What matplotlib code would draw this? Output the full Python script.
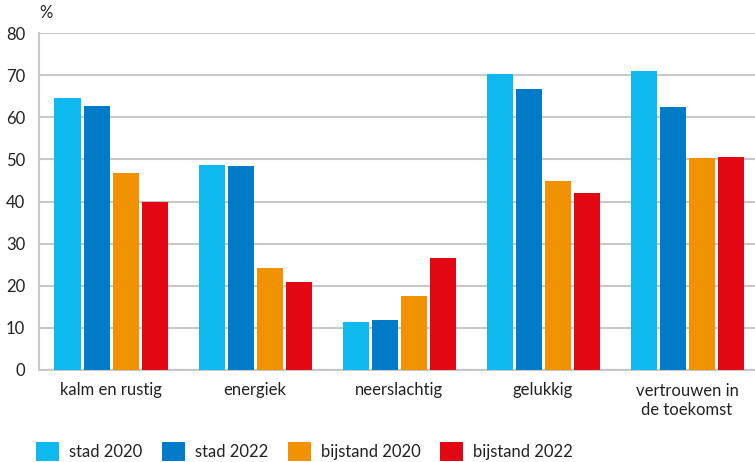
import numpy as np
import matplotlib.pyplot as plt

plt.rcParams['font.family'] = ['Lato', 'DejaVu Sans']

categories = ['kalm en rustig', 'energiek', 'neerslachtig', 'gelukkig', 'vertrouwen in\nde toekomst']
series = ['stad 2020', 'stad 2022', 'bijstand 2020', 'bijstand 2022']
stad_2020 = [64.6, 48.7, 11.4, 70.3, 71.0]
stad_2022 = [62.7, 48.5, 11.9, 66.7, 62.5]
bijstand_2020 = [46.8, 24.2, 17.6, 44.9, 50.4]
bijstand_2022 = [39.9, 20.9, 26.6, 42.0, 50.6]
colors = ['#0DB9EE', '#007BC7', '#F29200', '#E30613']

fig = plt.figure(figsize=(7.55, 4.62), dpi=100)
ax = fig.add_axes([39 / 755, 1 - 370 / 462, 720 / 755, 337 / 462])

x = np.arange(len(categories))
width = 26 / 144
step = 29 / 144
for i, (vals, name) in enumerate(zip([stad_2020, stad_2022, bijstand_2020, bijstand_2022], series)):
    ax.bar(x + (i - 1.5) * step, vals, width, color=colors[i], label=name, zorder=3)

ax.set_xlim(-0.5, len(categories) - 0.5)
ax.set_ylim(0, 80)
ax.set_yticks(range(0, 81, 10))
ax.set_xticks(x)
ax.set_xticklabels(categories, fontsize=12, color='#222222', linespacing=1.25)
ax.tick_params(axis='both', length=0, labelsize=12, labelcolor='#222222')
ax.tick_params(axis='x', pad=9)
ax.tick_params(axis='y', pad=10)
ax.yaxis.grid(True, color='#C8C8C8', linewidth=1.5, zorder=0)
for s in ['top', 'right']:
    ax.spines[s].set_visible(False)
for s in ['left', 'bottom']:
    ax.spines[s].set_color('#C8C8C8')
    ax.spines[s].set_linewidth(1.5)
ax.text(0, 1.035, '%', transform=ax.transAxes, fontsize=12, color='#222222', ha='left', va='bottom')

fig.legend(loc='lower left', bbox_to_anchor=(36 / 755, 1 / 462), ncol=4, frameon=False,
           borderpad=0, borderaxespad=0,
           fontsize=12, handlelength=1.4, handleheight=1.4, handletextpad=0.6,
           columnspacing=1.15, labelcolor='#222222')

fig.savefig('out.png', dpi=100)
